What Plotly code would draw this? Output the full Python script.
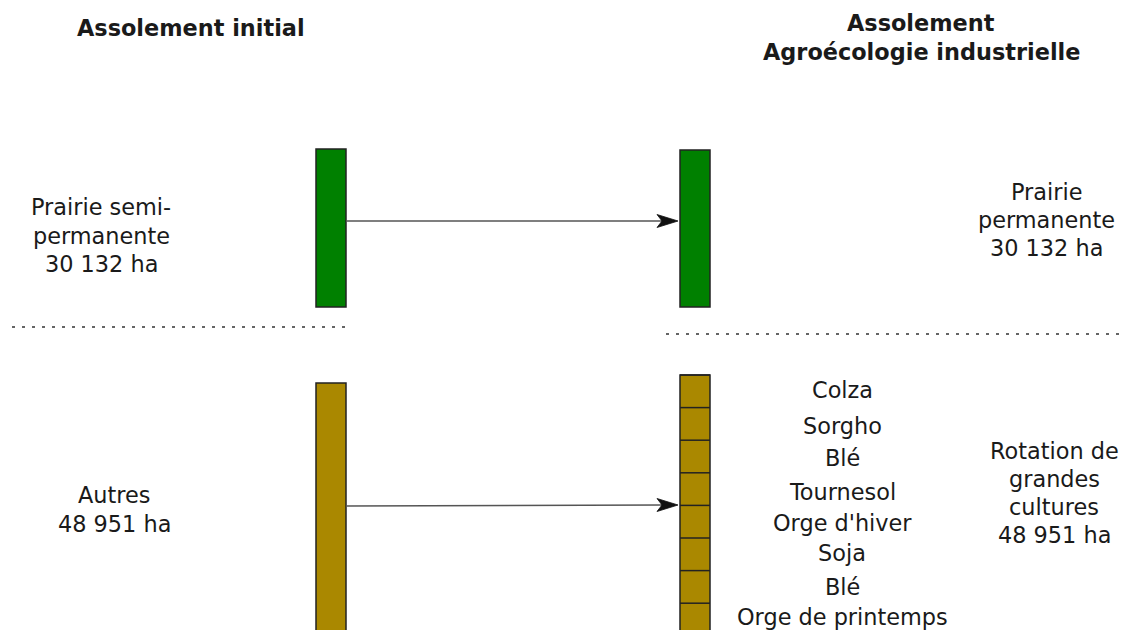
import plotly.graph_objects as go

# ---- data ----
titles = ["Assolement initial", "Assolement<br>Agroécologie industrielle"]
initial_labels = [["Prairie semi-", "permanente", "30 132 ha"], ["Autres", "48 951 ha"]]
final_labels = [["Prairie", "permanente", "30 132 ha"], ["Rotation de", "grandes", "cultures", "48 951 ha"]]
surfaces_ha = [30132, 48951]
block_colors = ["#008000", "#aa8800"]
rotation_crops = ["Colza", "Sorgho", "Blé", "Tournesol", "Orge d'hiver", "Soja", "Blé", "Orge de printemps"]

W, H = 1123, 630
FONT = "DejaVu Sans"
fig = go.Figure()
shapes, ann = [], []

# columns
left_x = (316, 346)
right_x = (680, 710)
blocks_left = [(149, 307), (383, 680)]
blocks_right = [(150, 307), (375, 680)]

for i, ha in enumerate(surfaces_ha):
    for (x0, x1), (y0, y1) in ((left_x, blocks_left[i]), (right_x, blocks_right[i])):
        shapes.append(dict(type="rect", xref="x", yref="y", x0=x0, x1=x1, y0=y0, y1=y1,
                           fillcolor=block_colors[i], line=dict(color="#222", width=1.5)))

# rotation segments
seg_h = 32.6
for k in range(len(rotation_crops) + 1):
    y = blocks_right[1][0] + seg_h * k
    shapes.append(dict(type="line", xref="x", yref="y", x0=right_x[0], x1=right_x[1], y0=y, y1=y,
                       line=dict(color="#222", width=1.5)))

# arrows (shaft + stealth head)
head_len, head_half, notch = 21, 6.5, 16
for (ys, ye) in ((221, 221), (506, 505)):
    x_start, x_tip = left_x[1], right_x[0] - 2
    shapes.append(dict(type="line", xref="x", yref="y", x0=x_start, y0=ys,
                       x1=x_tip - head_len + notch * 0 + 5, y1=ye,
                       line=dict(color="#555", width=1.6)))
    bx = x_tip - head_len
    path = (f"M {x_tip},{ye} L {bx},{ye - head_half} L {x_tip - notch},{ye} "
            f"L {bx},{ye + head_half} Z")
    shapes.append(dict(type="path", xref="x", yref="y", path=path,
                       fillcolor="#111", line=dict(color="#111", width=0.8)))

# dotted separators
shapes.append(dict(type="line", xref="x", yref="y", x0=12, x1=352, y0=327, y1=327,
                   line=dict(color="#333", width=1.5, dash="3px,7px")))
shapes.append(dict(type="line", xref="x", yref="y", x0=666, x1=1121, y0=334, y1=334,
                   line=dict(color="#333", width=1.5, dash="3px,7px")))

def txt(x, y, s, bold=False, size=22.4):
    ann.append(dict(x=x, y=y, xref="x", yref="y", text=(f"<b>{s}</b>" if bold else s),
                    showarrow=False, xanchor="center", yanchor="middle",
                    font=dict(family=FONT, size=size, color="#1a1a1a")))

# titles
txt(191, 28, titles[0], bold=True)
for j, line in enumerate(titles[1].split("<br>")):
    txt(921, 23 + 29 * j, line, bold=True)

# side labels
for j, line in enumerate(initial_labels[0]):
    txt(101, 207 + 28.5 * j, line)
for j, line in enumerate(initial_labels[1]):
    txt(114, 495 + 28.5 * j, line)
for j, line in enumerate(final_labels[0]):
    txt(1046, 192 + 28 * j, line)
for j, line in enumerate(final_labels[1]):
    txt(1054, 451 + 28 * j, line)

crop_y = [390, 426, 458, 492, 523, 553, 587, 617]
for c, y in zip(rotation_crops, crop_y):
    txt(842, y, c)

fig.update_layout(width=W, height=H, margin=dict(l=0, r=0, t=0, b=0),
                  paper_bgcolor="white", plot_bgcolor="white",
                  shapes=shapes, annotations=ann, showlegend=False,
                  xaxis=dict(range=[0, W], visible=False, fixedrange=True),
                  yaxis=dict(range=[H, 0], visible=False, fixedrange=True))
fig.write_html("out.html", config={"displayModeBar": False},
               post_script="document.body.style.margin='0';document.body.style.overflow='hidden';")
